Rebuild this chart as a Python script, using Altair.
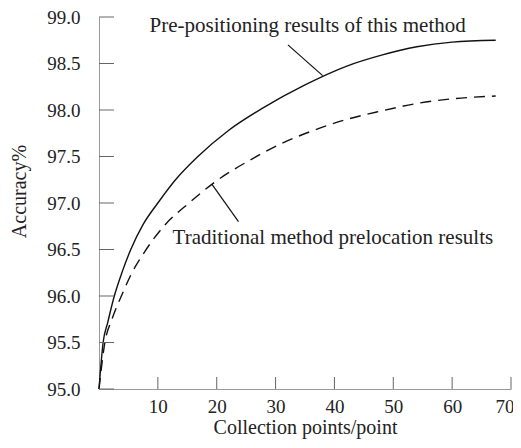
import altair as alt
import pandas as pd

# Data
solid_x = [0, 0.7, 1.5, 2.6, 4, 5.4, 7.5, 10, 13, 16.8, 22, 27.8, 35, 42, 48, 54, 60, 67.4]
solid_y = [95.0, 95.5, 95.72, 96.0, 96.27, 96.5, 96.77, 97.0, 97.25, 97.5, 97.78, 98.02, 98.27, 98.47,
           98.59, 98.68, 98.73, 98.75]
dashed_x = [0, 1, 2.2, 3.8, 5.6, 7.7, 11, 15.3, 20, 25.9, 31, 36, 41.6, 48, 54, 60, 67.4]
dashed_y = [95.0, 95.5, 95.75, 96.0, 96.25, 96.47, 96.75, 97.0, 97.24, 97.47, 97.64, 97.77, 97.89,
            97.99, 98.07, 98.12, 98.15]

y_ticks = [95.0, 95.5, 96.0, 96.5, 97.0, 97.5, 98.0, 98.5, 99.0]
x_ticks = [10, 20, 30, 40, 50, 60, 70]

label_texts = ["Pre-positioning results of this method", "Traditional method prelocation results"]
label_x = [8.6, 12.5]
label_y = [98.9, 96.62]

leader_x = [32.1, 23.7]
leader_y = [98.7, 96.80]
leader_x2 = [38.0, 19.2]
leader_y2 = [98.37, 97.2]

W, H = 412, 372
FONT = "Liberation Serif"
xs = alt.Scale(domain=[0, 70], nice=False, zero=True)
ys = alt.Scale(domain=[95, 99], nice=False, zero=False)

XT = "Collection points/point"
YT = "Accuracy%"
x_axis = alt.Axis(values=x_ticks, format="d", ticks=False, grid=False, title=XT, labelFlush=True,
                  labelFlushOffset=3,
                  domainColor="#999", labelPadding=8, titleBaseline="middle", titleY=38)
y_axis = alt.Axis(values=y_ticks, format=".1f", ticks=False, grid=False, title=YT, labelFlush=False,
                  domainColor="#999", labelPadding=19, titleBaseline="middle", titleX=-80, titleY=174)


def X(f):
    return alt.X(f, scale=xs, axis=x_axis, title=XT)


def Y(f):
    return alt.Y(f, scale=ys, axis=y_axis, title=YT)


solid_df = pd.DataFrame({"x": solid_x, "y": solid_y})
dashed_df = pd.DataFrame({"x": dashed_x, "y": dashed_y})

solid = alt.Chart(solid_df).mark_line(interpolate="monotone", color="#111", strokeWidth=1.4).encode(
    x=X("x:Q"), y=Y("y:Q"),
)

dashed = alt.Chart(dashed_df).mark_line(interpolate="monotone", color="#111", strokeWidth=1.4,
                                         strokeDash=[11, 7]).encode(
    x=X("x:Q"), y=Y("y:Q"),
)

ytick_df = pd.DataFrame({"v": y_ticks})
yt = alt.Chart(ytick_df).mark_tick(color="#666", thickness=1, size=15, opacity=1).encode(
    y=Y("v:Q"),
    x=alt.value(7.5),
)
xtick_df = pd.DataFrame({"v": x_ticks})
xt = alt.Chart(xtick_df).mark_tick(color="#666", thickness=1, size=12, opacity=1).encode(
    x=X("v:Q"),
    y=alt.value(H - 6),
)

lab_df = pd.DataFrame({"t": label_texts, "x": label_x, "y": label_y})
labels = alt.Chart(lab_df).mark_text(font=FONT, fontSize=21, align="left", baseline="middle", color="#222").encode(
    x=X("x:Q"), y=Y("y:Q"),
    text="t:N",
)

lead_df = pd.DataFrame({"x": leader_x, "y": leader_y, "x2": leader_x2, "y2": leader_y2})
leaders = alt.Chart(lead_df).mark_rule(color="#111", strokeWidth=1.2).encode(
    x=X("x:Q"), y=Y("y:Q"),
    x2="x2:Q", y2="y2:Q",
)

chart = alt.layer(solid, dashed, yt, xt, leaders, labels).properties(
    width=W, height=H,
    autosize=alt.AutoSizeParams(type="none"),
    padding={"left": 91, "top": 9, "right": 2, "bottom": 51},
).configure_view(stroke=None).configure_axis(
    labelFont=FONT, titleFont=FONT, labelFontSize=19, titleFontSize=20,
    labelColor="#222", titleColor="#222", titleFontWeight="normal",
)

chart.save("out.html", embed_options={"renderer": "svg", "actions": False})
